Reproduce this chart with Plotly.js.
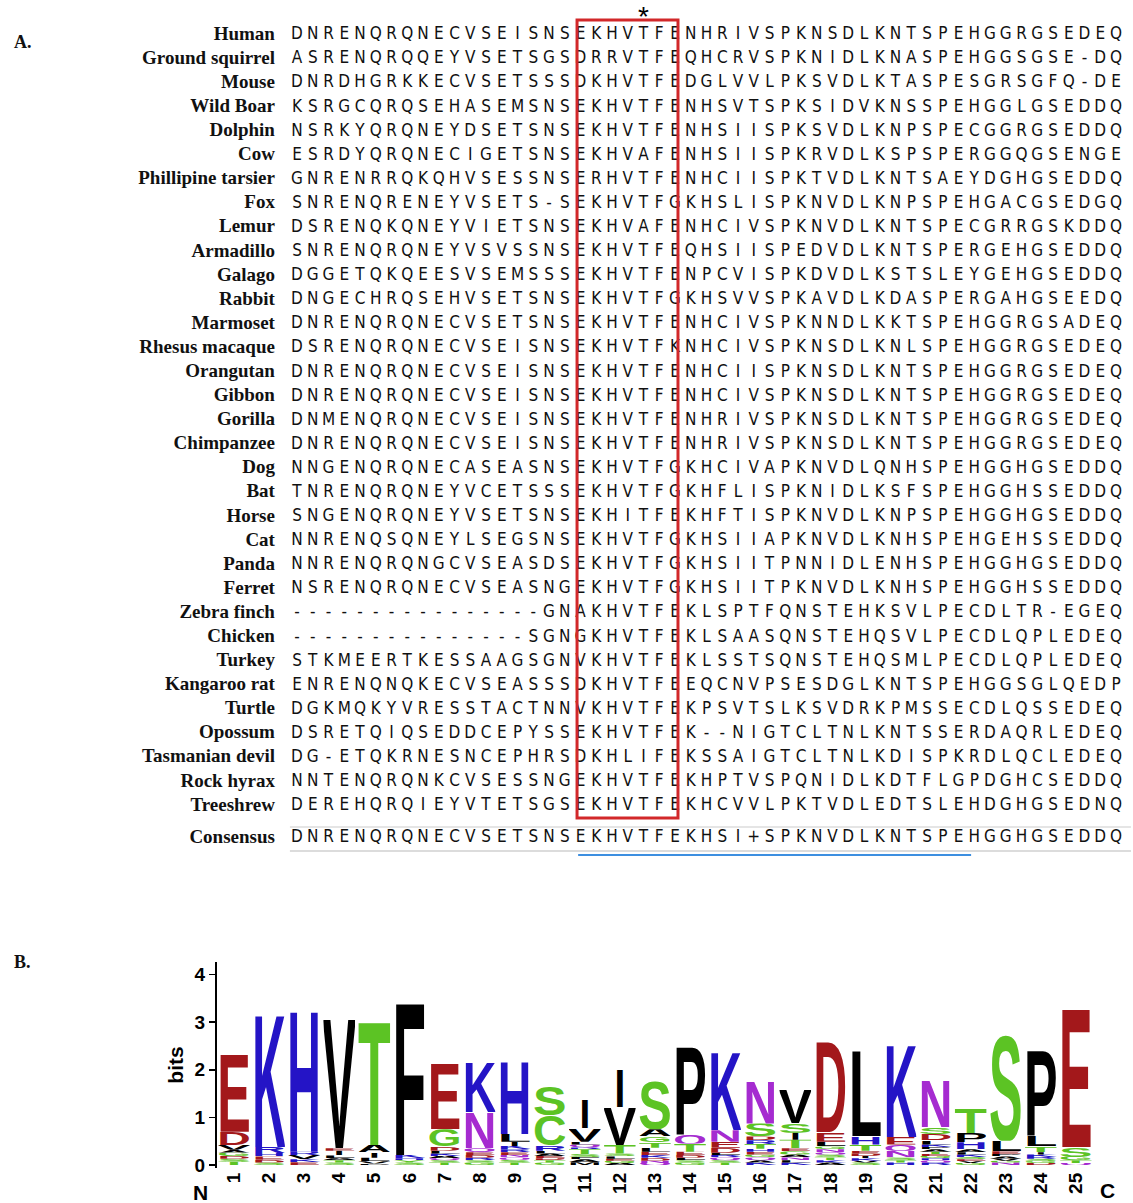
<!DOCTYPE html>
<html><head><meta charset="utf-8">
<script src="https://cdn.plot.ly/plotly-3.0.1.min.js"></script>
<style>html,body{margin:0;padding:0;background:#fff;}#chart{width:1133px;height:1203px;}</style>
</head><body><div id="chart"></div>
<script>
// ---------- Panel A data: alignment ----------
const species = ["Human","Ground squirrel","Mouse","Wild Boar","Dolphin","Cow","Phillipine tarsier","Fox","Lemur","Armadillo","Galago","Rabbit","Marmoset","Rhesus macaque","Orangutan","Gibbon","Gorilla","Chimpanzee","Dog","Bat","Horse","Cat","Panda","Ferret","Zebra finch","Chicken","Turkey","Kangaroo rat","Turtle","Opossum","Tasmanian devil","Rock hyrax","Treeshrew"];
const sequences = [
"DNRENQRQNECVSEISNSEKHVTFENHRIVSPKNSDLKNTSPEHGGRGSEDEQ",
"ASRENQRQQEYVSETSGSDRRVTFEQHCRVSPKNIDLKNASPEHGGSGSE-DQ",
"DNRDHGRKKECVSETSSSDKHVTFEDGLVVLPKSVDLKTASPESGRSGFQ-DE",
"KSRGCQRQSEHASEMSNSEKHVTFENHSVTSPKSIDVKNSSPEHGGLGSEDDQ",
"NSRKYQRQNEYDSETSNSEKHVTFENHSIISPKSVDLKNPSPECGGRGSEDDQ",
"ESRDYQRQNECIGETSNSEKHVAFENHSIISPKRVDLKSPSPERGGQGSENGE",
"GNRENRRQKQHVSESSNSERHVTFENHCIISPKTVDLKNTSAEYDGHGSEDDQ",
"SNRENQRENEYVSETS-SEKHVTFGKHSLISPKNVDLKNPSPEHGACGSEDGQ",
"DSRENQKQNEYVIETSNSEKHVAFENHCIVSPKNVDLKNTSPECGRRGSKDDQ",
"SNRENQRQNEYVSVSSNSEKHVTFEQHSIISPEDVDLKNTSPERGEHGSEDDQ",
"DGGETQKQEESVSEMSSSEKHVTFENPCVISPKDVDLKSTSLEYGEHGSEDDQ",
"DNGECHRQSEHVSETSNSEKHVTFGKHSVVSPKAVDLKDASPERGAHGSEEDQ",
"DNRENQRQNECVSETSNSEKHVTFENHCIVSPKNNDLKKTSPEHGGRGSADEQ",
"DSRENQRQNECVSEISNSEKHVTFKNHCIVSPKNSDLKNLSPEHGGRGSEDEQ",
"DNRENQRQNECVSEISNSEKHVTFENHCIISPKNSDLKNTSPEHGGRGSEDEQ",
"DNRENQRQNECVSEISNSEKHVTFENHCIVSPKNSDLKNTSPEHGGRGSEDEQ",
"DNMENQRQNECVSEISNSEKHVTFENHRIVSPKNSDLKNTSPEHGGRGSEDEQ",
"DNRENQRQNECVSEISNSEKHVTFENHRIVSPKNSDLKNTSPEHGGRGSEDEQ",
"NNGENQRQNECASEASNSEKHVTFGKHCIVAPKNVDLQNHSPEHGGHGSEDDQ",
"TNRENQRQNEYVCETSSSEKHVTFGKHFLISPKNIDLKSFSPEHGGHSSEDDQ",
"SNGENQRQNEYVSETSNSEKHITFEKHFTISPKNVDLKNPSPEHGGHGSEDDQ",
"NNRENQSQNEYLSEGSNSEKHVTFGKHSIIAPKNVDLKNHSPEHGEHSSEDDQ",
"NNRENQRQNGCVSEASDSEKHVTFGKHSIITPNNIDLENHSPEHGGHGSEDDQ",
"NSRENQRQNECVSEASNGEKHVTFGKHSIITPKNVDLKNHSPEHGGHSSEDDQ",
"----------------GNAKHVTFEKLSPTFQNSTEHKSVLPECDLTR-EGEQ",
"---------------SGNGKHVTFEKLSAASQNSTEHQSVLPECDLQPLEDEQ",
"STKMEERTKESSAAGSGNVKHVTFEKLSSTSQNSTEHQSMLPECDLQPLEDEQ",
"ENRENQNQKECVSEASSSDKHVTFEEQCNVPSESDGLKNTSPEHGGSGLQEDP",
"DGKMQKYVRESSTACTNNVKHVTFEKPSVTSLKSVDRKPMSSECDLQSSEDEQ",
"DSRETQIQSEDDCEPYSSEKHVTFEK--NIGTCLTNLKNTSSERDAQRLEDEQ",
"DG-ETQKRNESNCEPHRSDKHLIFEKSSAIGTCLTNLKDISPKRDLQCLEDEQ",
"NNTENQRQNKCVSESSNGEKHVTFEKHPTVSPQNIDLKDTFLGPDGHCSEDDQ",
"DEREHQRQIEYVTETSGSEKHVTFEKHCVVLPKTVDLEDTSLEHDGHGSEDNQ"
];
const consensusLabel = "Consensus";
const consensus = "DNRENQRQNECVSETSNSEKHVTFEKHSI+SPKNVDLKNTSPEHGGHGSEDDQ";
const markedColumn = 22;          // column flagged with *
const boxedColumns = [18, 23];    // EKHVTF
const motifColumns = [18, 42];    // region shown in panel B

// ---------- Panel B data: sequence logo (letters listed top -> bottom) ----------
const logoPositions = [1,2,3,4,5,6,7,8,9,10,11,12,13,14,15,16,17,18,19,20,21,22,23,24,25];
const logoLetters = [
["E","D","V","A","G","D","S","T"],
["K","R","H","E","D","S"],
["H","R","V","K","E"],
["V","E","I","L","A","T","S"],
["T","A","I","L","V","P"],
["F","K","H","Y","S"],
["E","G","D","L","K","A","Q","S","T"],
["K","N","Q","E","D","R","S","G"],
["H","L","I","K","R","E","N","Q","S","T"],
["S","C","R","L","A","E","D","T","G"],
["I","V","L","Q","R","T","S","F","A","M"],
["I","V","T","S","L","E","G","A"],
["S","A","G","T","L","E","K","D","N","Q"],
["P","Q","T","E","D","L","S","G"],
["K","N","E","D","L","R","Q","S","T"],
["N","S","D","R","T","H","E","G","Q","A","K"],
["V","S","I","T","E","G","A","N","L","K"],
["D","E","L","G","N","Q","S","T","K","A"],
["L","H","T","E","D","I","K","V","S"],
["K","E","Q","N","S","T","H"],
["N","S","D","L","K","P","A","T","E","G","H","Q","R"],
["T","P","H","A","L","K","S","E","V","G"],
["S","L","E","P","A","V","G","N"],
["P","L","T","I","K","R","S","G","D"],
["E","S","G","T","Q"]
];
const logoHeights = [
[1.68,0.28,0.10,0.06,0.07,0.06,0.06,0.07],
[2.84,0.13,0.07,0.07,0.06,0.05],
[3.05,0.07,0.09,0.06,0.06],
[2.80,0.05,0.10,0.06,0.04,0.05,0.05],
[2.66,0.15,0.12,0.07,0.05,0.03],
[3.29,0.07,0.04,0.05,0.05],
[1.43,0.36,0.09,0.06,0.05,0.05,0.04,0.05,0.05],
[1.07,0.76,0.08,0.06,0.06,0.05,0.05,0.05],
[1.57,0.16,0.09,0.07,0.06,0.06,0.05,0.05,0.06,0.05],
[0.60,0.63,0.12,0.06,0.05,0.05,0.04,0.05,0.05],
[0.60,0.28,0.06,0.06,0.04,0.10,0.06,0.05,0.06,0.06],
[0.80,0.80,0.18,0.06,0.05,0.04,0.05,0.04],
[1.02,0.15,0.12,0.12,0.08,0.07,0.06,0.06,0.05,0.04],
[1.89,0.18,0.17,0.07,0.06,0.05,0.05,0.05],
[1.66,0.24,0.13,0.10,0.05,0.05,0.06,0.05,0.05],
[0.92,0.27,0.08,0.08,0.10,0.06,0.06,0.06,0.06,0.05,0.05],
[0.73,0.20,0.15,0.18,0.06,0.07,0.06,0.06,0.05,0.05],
[1.94,0.20,0.10,0.06,0.06,0.05,0.06,0.06,0.05,0.05],
[1.83,0.17,0.13,0.06,0.05,0.05,0.05,0.04,0.05],
[1.99,0.16,0.13,0.14,0.06,0.05,0.05],
[1.00,0.14,0.13,0.09,0.05,0.05,0.05,0.05,0.04,0.05,0.04,0.05,0.05],
[0.52,0.19,0.15,0.06,0.05,0.05,0.05,0.04,0.04,0.04],
[2.26,0.22,0.06,0.05,0.05,0.04,0.04,0.05],
[1.84,0.22,0.12,0.05,0.05,0.04,0.05,0.04,0.04],
[3.00,0.20,0.07,0.06,0.04]
];
const bitsTicks = [0,1,2,3,4];

// ---------- styling ----------
const colorOf = {};
"GSTYC".split("").forEach(c => colorOf[c] = "#5cc324");
"NQ".split("").forEach(c => colorOf[c] = "#a52bd0");
"KRH".split("").forEach(c => colorOf[c] = "#2414c6");
"DE".split("").forEach(c => colorOf[c] = "#a3181b");
"AVLIPWFM".split("").forEach(c => colorOf[c] = "#000000");

const seqFont = {family: "Liberation Sans Narrow, DejaVu Sans Condensed, Liberation Sans, Arial, sans-serif", size: 17, color: "#111"};
const nameFont = {family: "Liberation Serif, Times New Roman, serif", size: 19, color: "#111", weight: 700};
const boldSans = {family: "Liberation Sans, Arial, Helvetica, sans-serif", color: "#000", weight: 700};

const consensusRow = species.length + 0.33;

// sequence characters
const sx = [], sy = [], st = [];
sequences.forEach((s, r) => { s.split("").forEach((ch, c) => { sx.push(c); sy.push(r); st.push(ch); }); });
consensus.split("").forEach((ch, c) => { sx.push(c); sy.push(consensusRow); st.push(ch); });

const traces = [
  {type: "scatter", mode: "text", x: sx, y: sy, text: st, textposition: "middle center",
   textfont: seqFont, xaxis: "x", yaxis: "y", hoverinfo: "skip", cliponaxis: false},
  {type: "scatter", mode: "text", x: species.map(() => -1.4).concat([-1.4]),
   y: species.map((_, i) => i).concat([consensusRow]),
   text: species.concat([consensusLabel]), textposition: "middle left",
   textfont: nameFont, xaxis: "x", yaxis: "y", hoverinfo: "skip", cliponaxis: false},
  {type: "scatter", mode: "text", x: [markedColumn], y: [-0.68], text: ["*"], textposition: "middle center",
   textfont: {family: "Liberation Sans, Arial, sans-serif", size: 28, color: "#000"}, xaxis: "x", yaxis: "y",
   hoverinfo: "skip", cliponaxis: false},
  {type: "scatter", mode: "markers", x: logoPositions,
   y: logoHeights.map(h => h.reduce((a, b) => a + b, 0)),
   marker: {opacity: 0, size: 2}, xaxis: "x2", yaxis: "y2", hoverinfo: "x+y"}
];

// logo letter images
function letterURI(ch, color) {
  const len = ch === "I" ? 32 : 100;
  const svg = '<svg xmlns="http://www.w3.org/2000/svg" width="100" height="100" viewBox="3 0 94 100" preserveAspectRatio="none">' +
    '<text x="50" y="100" font-family="Liberation Sans, Arial, Helvetica, sans-serif" font-weight="700" font-size="139.7" ' +
    'text-anchor="middle" textLength="' + len + '" lengthAdjust="spacingAndGlyphs" fill="' + color + '">' + ch + '</text></svg>';
  return "data:image/svg+xml;charset=utf-8," + encodeURIComponent(svg);
}
const images = [];
logoPositions.forEach((p, i) => {
  const L = logoLetters[i], H = logoHeights[i];
  let base = 0;
  for (let k = L.length - 1; k >= 0; k--) {
    const top = base + H[k];
    images.push({source: letterURI(L[k], colorOf[L[k]] || "#000"), xref: "x2", yref: "y2",
      x: p - 0.45, y: top, sizex: 0.90, sizey: H[k], xanchor: "left", yanchor: "top",
      sizing: "stretch", layer: "above"});
    base = top;
  }
});

const shapes = [
  {type: "rect", xref: "x", yref: "y", x0: boxedColumns[0] - 0.22, x1: boxedColumns[1] + 1.19, y0: -0.62, y1: sequences.length - 0.5,
   line: {color: "#d2282a", width: 3}},
  {type: "line", xref: "x", yref: "y", x0: -0.45, x1: consensus.length - 0.05, y0: sequences.length - 0.12, y1: sequences.length - 0.12,
   line: {color: "#dcdcdc", width: 1.5}},
  {type: "line", xref: "x", yref: "y", x0: -0.45, x1: consensus.length - 0.05, y0: consensusRow + 0.54, y1: consensusRow + 0.54,
   line: {color: "#d0d0d0", width: 1.5}},
  {type: "line", xref: "x", yref: "y", x0: motifColumns[0] - 0.15, x1: motifColumns[1] + 0.8, y0: consensusRow + 0.71, y1: consensusRow + 0.71,
   line: {color: "#3d8fe0", width: 2}}
];

const annotations = [
  {text: "A.", xref: "paper", yref: "paper", x: 12/1133, y: 1 - 42/1203, xanchor: "left", yanchor: "middle", showarrow: false,
   font: {family: nameFont.family, size: 18, color: "#111", weight: 700}},
  {text: "B.", xref: "paper", yref: "paper", x: 12/1133, y: 1 - 962/1203, xanchor: "left", yanchor: "middle", showarrow: false,
   font: {family: nameFont.family, size: 18, color: "#111", weight: 700}},
  {text: "N", xref: "paper", yref: "paper", x: 200/1133, y: 1 - 1192/1203, xanchor: "center", yanchor: "middle", showarrow: false,
   font: Object.assign({size: 21}, boldSans)},
  {text: "C", xref: "paper", yref: "paper", x: 1107/1133, y: 1 - 1190/1203, xanchor: "center", yanchor: "middle", showarrow: false,
   font: Object.assign({size: 21}, boldSans)}
];

const layout = {
  width: 1133, height: 1203, margin: {l: 0, r: 0, t: 0, b: 0},
  paper_bgcolor: "#fff", plot_bgcolor: "rgba(0,0,0,0)", showlegend: false,
  xaxis: {domain: [0, 1], range: [-297/15.75, (1133-297)/15.75], visible: false, anchor: "y", fixedrange: true},
  yaxis: {domain: [1 - 880/1203, 1], range: [(880-35)/24.09, -35/24.09], visible: false, anchor: "x", fixedrange: true},
  xaxis2: {domain: [0, 1], range: [(0-234)/35.08 + 1, (1133-234)/35.08 + 1], anchor: "y2",
    tickvals: logoPositions, ticktext: logoPositions.map(String), tickangle: -90,
    tickfont: Object.assign({size: 19}, boldSans), showline: false, ticks: "", showgrid: false, zeroline: false, fixedrange: true},
  yaxis2: {domain: [1 - 1168/1203, 1 - 962/1203], range: [-0.063, 4.265], anchor: "free", position: 215/1133,
    tickvals: bitsTicks, ticks: "outside", ticklen: 6, tickwidth: 1.5, tickcolor: "#000",
    showline: true, linewidth: 1.5, linecolor: "#000", showgrid: false, zeroline: false,
    tickfont: Object.assign({size: 19}, boldSans),
    title: {text: "bits", font: Object.assign({size: 21}, boldSans), standoff: 4}, fixedrange: true},
  shapes: shapes, images: images, annotations: annotations
};

Plotly.newPlot("chart", traces, layout, {displayModeBar: false, staticPlot: true});
</script>
</body></html>
